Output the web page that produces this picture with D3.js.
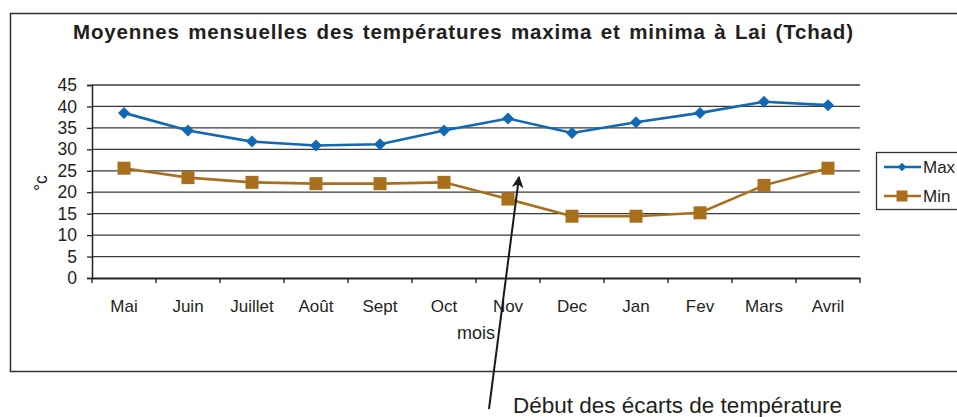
<!DOCTYPE html>
<html>
<head>
<meta charset="utf-8">
<script src="https://cdn.jsdelivr.net/npm/d3@7"></script>
<style>
  body { margin: 0; background: #fff; }
  text { font-family: "Liberation Sans", Arial, sans-serif; fill: #231f20; }
</style>
</head>
<body>
<div id="chart"></div>
<script>
const months = ["Mai", "Juin", "Juillet", "Août", "Sept", "Oct", "Nov", "Dec", "Jan", "Fev", "Mars", "Avril"];
const maxTemps = [38.5, 34.4, 31.8, 30.9, 31.2, 34.4, 37.2, 33.8, 36.3, 38.5, 41.1, 40.3];
const minTemps = [25.6, 23.4, 22.3, 22.0, 22.0, 22.3, 18.4, 14.4, 14.4, 15.2, 21.6, 25.6];
const yTicks = [0, 5, 10, 15, 20, 25, 30, 35, 40, 45];

let w = 957, h = 417;
let blue = "#1169b4", brown = "#a96f1c";

let svg = d3.select("#chart").append("svg")
  .attr("width", w)
  .attr("height", h)

// outer frame
svg.append("rect")
  .attr("x", 10.5).attr("y", 13.5)
  .attr("width", 980).attr("height", 358)
  .attr("fill", "none").attr("stroke", "#333").attr("stroke-width", 1.5)

svg.append("text")
  .attr("x", 463).attr("y", 39)
  .attr("text-anchor", "middle")
  .attr("font-size", 20.5).attr("font-weight", "bold")
  .attr("word-spacing", 2)
  .attr("textLength", 780).attr("lengthAdjust", "spacing")
  .text("Moyennes mensuelles des températures maxima et minima à Lai (Tchad)")

let pLeft = 92, pRight = 860, pTop = 85, pBottom = 278;

let x = d3.scaleBand().domain(months).range([pLeft, pRight]);
let y = d3.scaleLinear().domain([0, 45]).range([pBottom, pTop]);

// gridlines
svg.append("g")
  .selectAll("line")
  .data(yTicks.filter(d => d > 0))
  .join("line")
  .attr("x1", pLeft).attr("x2", pRight)
  .attr("y1", d => y(d)).attr("y2", d => y(d))
  .attr("stroke", "#3a3a3a").attr("stroke-width", 1.3)

// y axis
let yAxis = svg.append("g")
  .attr("transform", `translate(${pLeft},0)`)
  .call(d3.axisLeft(y).tickValues(yTicks).tickSize(5).tickPadding(10))
yAxis.select(".domain").attr("stroke", "#222").attr("stroke-width", 1.5)
yAxis.selectAll(".tick line").attr("stroke", "#222").attr("stroke-width", 1.3)
yAxis.selectAll(".tick text").attr("font-size", 17.5).attr("fill", "#231f20")
  .attr("font-family", "Liberation Sans, Arial, sans-serif")

// x axis with ticks at band boundaries
let xAxis = svg.append("g")
  .attr("transform", `translate(0,${pBottom})`)
  .call(d3.axisBottom(x).tickSize(0).tickPadding(22))
xAxis.select(".domain").attr("stroke", "#222").attr("stroke-width", 2.2)
xAxis.selectAll(".tick text").attr("font-size", 17).attr("fill", "#231f20")
  .attr("font-family", "Liberation Sans, Arial, sans-serif")
xAxis.selectAll(".sep")
  .data(months.map(m => x(m)).concat([pRight]))
  .join("line")
  .attr("class", "sep")
  .attr("x1", d => d).attr("x2", d => d)
  .attr("y1", 0).attr("y2", 5)
  .attr("stroke", "#222").attr("stroke-width", 1.3)

// axis titles
svg.append("text")
  .attr("transform", "translate(47,183) rotate(-90)")
  .attr("text-anchor", "middle")
  .attr("font-size", 17.5)
  .text("°c")

svg.append("text")
  .attr("x", 476).attr("y", 339)
  .attr("text-anchor", "middle")
  .attr("font-size", 18)
  .text("mois")

let line = d3.line()
  .x((d, i) => x(months[i]) + x.bandwidth() / 2)
  .y(d => y(d))

svg.append("path")
  .datum(maxTemps)
  .attr("d", line)
  .attr("fill", "none").attr("stroke", blue).attr("stroke-width", 2.6)

svg.append("path")
  .datum(minTemps)
  .attr("d", line)
  .attr("fill", "none").attr("stroke", brown).attr("stroke-width", 2.6)

let diamond = d3.symbol().type(d3.symbolSquare).size(72)

svg.append("g")
  .selectAll("path")
  .data(maxTemps)
  .join("path")
  .attr("d", diamond)
  .attr("transform", (d, i) => `translate(${x(months[i]) + x.bandwidth() / 2},${y(d)}) rotate(45)`)
  .attr("fill", blue)

svg.append("g")
  .selectAll("rect")
  .data(minTemps)
  .join("rect")
  .attr("x", (d, i) => x(months[i]) + x.bandwidth() / 2 - 6.5)
  .attr("y", d => y(d) - 6.5)
  .attr("width", 13).attr("height", 13)
  .attr("fill", brown)

// legend
svg.append("rect")
  .attr("x", 876.5).attr("y", 152.5)
  .attr("width", 100).attr("height", 57)
  .attr("fill", "#fff").attr("stroke", "#333").attr("stroke-width", 1.3)

let legendItems = [
  {name: "Max", color: blue, yy: 167},
  {name: "Min", color: brown, yy: 196}
]
legendItems.forEach((it, i) => {
  svg.append("line")
    .attr("x1", 884).attr("x2", 921)
    .attr("y1", it.yy).attr("y2", it.yy)
    .attr("stroke", it.color).attr("stroke-width", 2.4)
  if (i === 0) {
    svg.append("path")
      .attr("d", d3.symbol().type(d3.symbolSquare).size(36))
      .attr("transform", `translate(902,${it.yy}) rotate(45)`)
      .attr("fill", it.color)
  } else {
    svg.append("rect")
      .attr("x", 896.5).attr("y", it.yy - 5.5)
      .attr("width", 11).attr("height", 11)
      .attr("fill", it.color)
  }
  svg.append("text")
    .attr("x", 923).attr("y", it.yy + 6)
    .attr("font-size", 17)
    .text(it.name)
})

// annotation arrow
svg.append("defs").append("marker")
  .attr("id", "arrow")
  .attr("viewBox", "0 0 10 10")
  .attr("refX", 9).attr("refY", 5)
  .attr("markerWidth", 6).attr("markerHeight", 6)
  .attr("orient", "auto")
  .append("path")
  .attr("d", "M0,0 L10,5 L0,10 L3,5 Z")
  .attr("fill", "#1a1a1a")

svg.append("line")
  .attr("x1", 489).attr("y1", 409)
  .attr("x2", 519).attr("y2", 177)
  .attr("stroke", "#1a1a1a").attr("stroke-width", 2)
  .attr("marker-end", "url(#arrow)")

svg.append("text")
  .attr("x", 513).attr("y", 413)
  .attr("font-size", 22.5)
  .text("Début des écarts de température")
</script>
</body>
</html>
